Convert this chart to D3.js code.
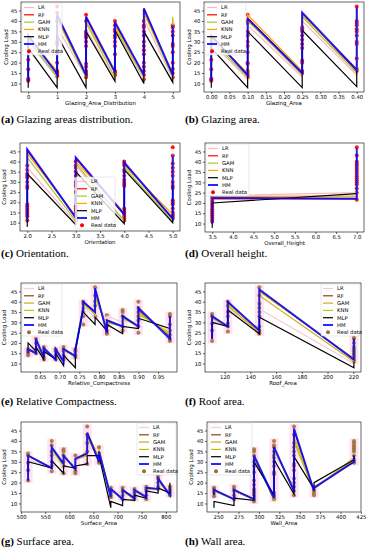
<!DOCTYPE html>
<html><head><meta charset="utf-8">
<script src="https://cdn.jsdelivr.net/npm/d3@7/dist/d3.min.js"></script>
<style>body{margin:0;background:#fff}svg{display:block}</style>
</head><body>
<script>
// ---------- shared ----------
const MODELS = ["LR","RF","GAM","KNN","MLP","HM"];
const COLORS_TOP = ["#ffb6c1","#ff0000","#9acd32","#ffa500","#000000","#0000ff"];
const COLORS_BOT = ["#f2cdd3","#8b4513","#daa520","#c4c400","#000000","#0000ff"];
const Y_TICKS = [10,15,20,25,30,35,40,45];
const Y_DOMAIN = [5.9, 49.1];

// ---------- (a) Glazing_Area_Distribution ----------
const aX = [0,1,2,3,4,5];
const aTicks = [0,1,2,3,4,5];
const aLR  = [[11,30],[13,37],[13,36],[12,36],[12,41],[12,40]];
const aRF  = [[11,33],[15,42.5],[14,42],[15,39],[14,46],[14,38]];
const aGAM = [[11,31],[13,41],[13,39],[13,37],[13,44],[13,42]];
const aKNN = [[11,32],[16,41],[15,40],[15,38],[14,44],[15,41]];
const aMLP = [[8,27],[8,33],[8,35],[11,35.5],[10,35],[10.5,34]];
const aHM  = [[11,33],[14.5,43],[14,42],[15.5,39.5],[14,46],[14,38]];
const aReal = [[11.3,11.8,12.3,16.8,21.4],
  [13.5,14,14.5,15,15.5,16,20,25,29,30,40,44,47],
  [13,14,14.5,15.5,16,18,19.5,28,30,32,33,34,35,40,43],
  [14,15,15.5,16,24,28,30,32,33,35,36,38,40],
  [12,14,16,18,20,24,26,28,30,33,35,37,38,40],
  [13,15,17,20,25,28,29,33,35,37,38]];

// ---------- (b) Glazing_Area ----------
const bX = [0,0.1,0.25,0.4];
const bTicks = [0,0.05,0.1,0.15,0.2,0.25,0.3,0.35,0.4];
const bLR  = [[11,30],[12,38],[13,40],[14,42]];
const bRF  = [[11,33],[14,41.5],[15,43.5],[16,46]];
const bGAM = [[11,31],[13,40],[14,42],[15,45]];
const bKNN = [[11,32],[15,43],[16,43],[17,45]];
const bMLP = [[8,27],[8,35],[8,35.5],[8.5,16]];
const bHM  = [[11,33],[14,41],[15,44],[16.5,46.5]];
const bReal = [[11.3,11.8,12.3,16.8,21.4],
  [13,14,15,16,19.5,20,25,28,30,33,35,39,40,43],
  [15,16,20,21,27,29,31,33,35,36,37],
  [16,17,22,29,30,33,35,36,38,39,40,47]];

// ---------- (c) Orientation ----------
const cX = [2,3,4,5];
const cTicks = [2,2.5,3,3.5,4,4.5,5];
const cLR  = [[11,37],[10,38],[10.5,36],[11,38]];
const cRF  = [[11,45.5],[12.5,41.5],[14,39],[12,42.5]];
const cGAM = [[11,42],[11,39],[11,37],[11,40]];
const cKNN = [[11,44],[13,40],[15,38],[14,43.5]];
const cMLP = [[8,34],[9,35],[9.5,36],[10,30]];
const cHM  = [[11,46],[12.5,42],[14,39.5],[12,43]];
const cReal = [[11,13,14,15,16,17,18,19,27,28,30,32,33,34,36,38],
  [11,13,14,15,16,17,18,25,28,29,30,33,35,37,38,40],
  [11,12,13,14,15,16,17,28,29,30,31,33,35,36,38,39,40],
  [12,13,14,15,17,19,20,21,27,28,30,33,35,37,39,43,47]];

// ---------- (d) Overall_Height ----------
const dX = [3.5,7.0];
const dTicks = [3.5,4,4.5,5,5.5,6,6.5,7];
const dLR  = [[10,23.5],[25,36]];
const dRF  = [[10,22],[22,43]];
const dGAM = [[10,23],[23,38]];
const dKNN = [[10,23],[23.5,40]];
const dMLP = [[8,20],[24.5,24.5]];
const dHM  = [[10,22.5],[22,46.5]];
const dReal = [[11,12,13,14,15,16,17,18,19,20,21,22,23],
  [21.5,25,27,29,30,31,32,33,34,35,36,37,38,39,40,43,47]];

// ---------- (e) Relative_Compactness ----------
const eX = [0.62,0.64,0.66,0.69,0.71,0.74,0.76,0.79,0.82,0.86,0.90,0.98];
const eTicks = [0.65,0.7,0.75,0.8,0.85,0.9,0.95];
const eLR  = [[16,18],[16,20],[14,17],[13,16],[13,16],[14,16],[36,38],[32,41],[30,33],[30,31],[30,34],[26,29]];
const eRF  = [[15,17],[15,21],[13,17],[12,17],[11,17],[14,16],[37,39.5],[35,46],[26,31],[28,33],[28,36],[23,33]];
const eGAM = [[15,17],[15,21],[12,17],[12,16.5],[11.5,17],[14,17],[38,39],[34,44],[27,30],[28,32],[28,35],[24,32]];
const eKNN = [[15,17],[15,21],[12,16.5],[12,16],[12,16.5],[14,16],[38,39],[34,43],[27,30],[28,32],[28,34],[25,30]];
const eMLP = [[17,20],[16,18],[12,16],[12,15],[9,14],[8,17],[36,35],[29,32.5],[26,29],[24.5,28],[27,32],[27,27]];
const eHM  = [[15,17],[15,22],[13,17.5],[12,17],[11,17],[13.5,16.5],[37,40],[35,46.5],[25,31],[28,33],[28,37],[22,33]];
const eReal = [[14,15,16,17],[15,17,20,22],[12,13,15,17,18],[12,14,16,17],[12,14,16,17,18],[13,14,16,17],
  [29,33,35,37,39,40],[33,38,40,43,47],[24.5,25,26,28,29,33.5],[26,28,33,35,36],[25,28,31,33,35,37,40],[21,22,24,26,29,33,34]];

// ---------- (f) Roof_Area ----------
const fX = [110.25,122.5,147,220.5];
const fTicks = [120,140,160,180,200,220];
const fLR  = [[23,31],[28,37],[26,36.5],[10,18]];
const fRF  = [[22,32.5],[28,39.5],[26,45.5],[12,22]];
const fGAM = [[23,32],[28,38],[25,43],[11,20]];
const fKNN = [[23,33],[28,39],[26,45],[12.5,21]];
const fMLP = [[22,30],[28,36],[24.5,32.5],[8,11]];
const fHM  = [[22,33],[28,40],[26,46],[12,22]];
const fReal = [[21,26,29.5,33,34],[25.5,28,29.5,33,35,38,40],[24.5,25,26,28,33,35,37,39,43,47],
  [11,12,13,14,15,16,17,18,20,22,22.5]];

// ---------- (g) Surface_Area ----------
const gX = [514.5,563.5,588,612.5,637,661.5,686,710.5,735,759.5,784,808.5];
const gTicks = [500,550,600,650,700,750,800];
const gLR  = [[26,31],[27,33],[28,32],[28,31],[33,38],[33,35],[15,17],[14,16],[14,16],[15,17],[17,20],[15,17]];
const gRF  = [[21,33],[27,36.5],[29,33],[26.5,31],[34,43.5],[30,35],[13,17],[12,16.5],[12.5,16.5],[13,17.5],[17,21.5],[14,17]];
const gGAM = [[22,33],[27,36],[28,33],[27,31],[33,42],[31,36],[13,17],[12,16],[12,16],[13,17],[17,21],[14,17]];
const gKNN = [[22,33],[27,36],[28,33],[27,31],[35,44],[32,36],[13,17],[12,16],[12,16.5],[13,17],[17,21],[14,17]];
const gMLP = [[25,30],[27,30.5],[24.5,28],[27,28],[29,33],[33,33],[8,11],[9,12],[11.5,14],[12.5,16],[15,17.5],[15,20]];
const gHM  = [[21,33],[27,37],[29,33],[26.5,31.5],[34,44],[30,35],[13,17],[12,16.5],[12.5,16.5],[13,17.5],[17,22],[14,17]];
const gReal = [[21,26,29.5,33,34],[25.5,28,30,33,35,38,40],[24.5,28,30,33,35,36],[24.5,25.5,27,33],
  [29,35,39,43,47],[29.5,30,33,34,37],[13,14,15,16,17.5],[12,14,16,17.5],[12,13,14,15,16,17],
  [12,14,16,17,18],[17,18,20,22,23],[14,15,16,17,18]];

// ---------- (h) Wall_Area ----------
const hX = [245,269.5,294,318.5,343,367.5,416.5];
const hTicks = [250,275,300,325,350,375,400,425];
const hLR  = [[14,16],[13,16],[13,30],[14,34],[18,38],[17,18],[30,32]];
const hRF  = [[14,16.5],[12,16.5],[12,32.5],[13,36.5],[16,45],[16,17.5],[30,33]];
const hGAM = [[14,16],[12,16],[12,32],[12,36],[17,40],[16,17],[31,33]];
const hKNN = [[14,16],[12,16],[12,33],[11.5,36],[17,42],[16,17],[32,34]];
const hMLP = [[8,11],[9,12.5],[11.5,30],[14,31],[14.5,32.5],[17,20],[31,33]];
const hHM  = [[14,16.5],[12,16.5],[12,33],[12.5,37],[16,46],[16,17.5],[30,33]];
const hReal = [[13.5,15,16,17,17.5],[12,13,14,16,17,18],[11,12,13,14,15,16,17,19,21,25,28,30,33,35,36],
  [12,13,14,15,24,25,28,30,32,33,35,37,38,40],[14,16,18,20,22,26,28,29,33,35,37,39,43,47],
  [14,15,16,17,18],[29.5,30,31,33,35,36,37,38,39,40]];

// ---------- drawing ----------
const svg = d3.select("body").append("svg").attr("width",369).attr("height",550);
const FONT = "DejaVu Sans";

function panel(p){
  const x = d3.scaleLinear().domain(p.xd).range([p.l,p.r]);
  const y = d3.scaleLinear().domain(Y_DOMAIN).range([p.b,p.t]);
  const g = svg.append("g");
  const cid = "clip_"+p.id;
  svg.append("clipPath").attr("id",cid).append("rect")
    .attr("x",p.l).attr("y",p.t).attr("width",p.r-p.l).attr("height",p.b-p.t);
  const plot = g.append("g").attr("clip-path",`url(#${cid})`);
  const colors = p.bottomStyle ? COLORS_BOT : COLORS_TOP;
  const dotColor = p.bottomStyle ? "#9a6c34" : "#ff0000";

  if (p.bottomStyle){
    plot.selectAll("rect.band").data(p.real).join("rect")
      .attr("x",(d,i)=>x(p.xs[i])-4.5).attr("width",9)
      .attr("y",d=>y(d3.max(d)+1.2)).attr("height",d=>y(d3.min(d)-1.2)-y(d3.max(d)+1.2))
      .attr("fill","#ff9ad5").attr("opacity",0.3);
  }
  const pts = p.real.flatMap((arr,i)=>arr.map(v=>[p.xs[i],v]));
  plot.selectAll("circle.real").data(pts).join("circle")
    .attr("cx",d=>x(d[0])).attr("cy",d=>y(d[1])).attr("r",2)
    .attr("fill",dotColor).attr("opacity",p.bottomStyle?0.85:0.9);

  const line = d3.line().x(d=>x(d[0])).y(d=>y(d[1]));
  p.series.forEach((s,k)=>{
    const data = p.xs.flatMap((xv,i)=>[[xv,s[i][0]],[xv,s[i][1]]]);
    plot.append("path").attr("d",line(data)).attr("fill","none")
      .attr("stroke",colors[k]).attr("stroke-width",k===5?2:1.2)
      .attr("stroke-opacity",k===5?0.85:1).attr("stroke-linejoin","miter");
  });

  // axes
  const ax = g.append("g").attr("transform",`translate(0,${p.b})`)
    .call(d3.axisBottom(x).tickValues(p.xt).tickFormat(p.fmt).tickSize(2).tickPadding(1.5));
  const ay = g.append("g").attr("transform",`translate(${p.l},0)`)
    .call(d3.axisLeft(y).tickValues(Y_TICKS).tickFormat(d3.format("d")).tickSize(2).tickPadding(1.5));
  [ax,ay].forEach(a=>{
    a.select(".domain").remove();
    a.selectAll("line").attr("stroke","#000").attr("stroke-width",0.6);
    a.selectAll("text").attr("font-family",FONT).attr("font-size",5.3).attr("fill","#000");
  });
  g.append("rect").attr("x",p.l).attr("y",p.t).attr("width",p.r-p.l).attr("height",p.b-p.t)
    .attr("fill","none").attr("stroke","#000").attr("stroke-width",0.6);

  g.append("text").attr("x",(p.l+p.r)/2).attr("y",p.b+13)
    .attr("text-anchor","middle").attr("font-family",FONT).attr("font-size",5.5).text(p.xlabel);
  g.append("text").attr("transform",`translate(${p.ylx},${(p.t+p.b)/2}) rotate(-90)`)
    .attr("text-anchor","middle").attr("font-family",FONT).attr("font-size",5.5).text("Cooling Load");

  // legend
  const L = g.append("g").attr("transform",`translate(${p.lg[0]},${p.lg[1]})`);
  L.append("rect").attr("width",p.lg[2]).attr("height",52).attr("rx",1.5)
    .attr("fill","#fff").attr("fill-opacity",0.8).attr("stroke","#d0d0d0").attr("stroke-width",0.5);
  MODELS.forEach((m,k)=>{
    const yy = 4.5 + k*7.3;
    L.append("line").attr("x1",2).attr("x2",12).attr("y1",yy).attr("y2",yy)
      .attr("stroke",colors[k]).attr("stroke-width",k===5?2:1.2).attr("stroke-opacity",k===5?0.85:1);
    L.append("text").attr("x",16).attr("y",yy+1.9).attr("font-family",FONT).attr("font-size",5.3).text(m);
  });
  const yr = 4.5 + 6*7.3;
  L.append("circle").attr("cx",7).attr("cy",yr).attr("r",2).attr("fill",dotColor);
  L.append("text").attr("x",16).attr("y",yr+1.9).attr("font-family",FONT).attr("font-size",5.3).text("Real data");

  // caption
  const c = g.append("text").attr("x",p.cap[0]).attr("y",p.cap[1])
    .attr("font-family","Liberation Serif, serif").attr("font-size",11);
  c.append("tspan").attr("font-weight","bold").text(p.capLetter);
  c.append("tspan").text(" "+p.capText);
}

const f2 = d3.format(".2f"), f1 = d3.format(".1f"), fd = d3.format("d");

panel({id:"a",xs:aX,series:[aLR,aRF,aGAM,aKNN,aMLP,aHM],real:aReal,xd:[-0.25,5.25],xt:aTicks,fmt:fd,
  l:21,r:180,t:2,b:92,xlabel:"Glazing_Area_Distribution",ylx:8,lg:[22,3,40],
  cap:[1,123],capLetter:"(a)",capText:"Glazing areas distribution."});
panel({id:"b",xs:bX,series:[bLR,bRF,bGAM,bKNN,bMLP,bHM],real:bReal,xd:[-0.02,0.42],xt:bTicks,fmt:f2,
  l:204,r:364,t:2,b:92,xlabel:"Glazing_Area",ylx:191,lg:[205,3,41],
  cap:[185,123],capLetter:"(b)",capText:"Glazing area."});
panel({id:"c",xs:cX,series:[cLR,cRF,cGAM,cKNN,cMLP,cHM],real:cReal,xd:[1.85,5.15],xt:cTicks,fmt:f1,
  l:20,r:180,t:143,b:231,xlabel:"Orientation",ylx:6,lg:[75,177,40],
  cap:[1,257],capLetter:"(c)",capText:"Orientation."});
panel({id:"d",xs:dX,series:[dLR,dRF,dGAM,dKNN,dMLP,dHM],real:dReal,xd:[3.325,7.175],xt:dTicks,fmt:f1,
  l:205,r:364,t:143,b:232,xlabel:"Overall_Height",ylx:191,lg:[206,144,43],
  cap:[185,257],capLetter:"(d)",capText:"Overall height."});
panel({id:"e",xs:eX,series:[eLR,eRF,eGAM,eKNN,eMLP,eHM],real:eReal,xd:[0.602,0.998],xt:eTicks,fmt:f2,
  l:21,r:177,t:283,b:372,xlabel:"Relative_Compactness",ylx:6,lg:[22,284,40],bottomStyle:true,
  cap:[1,405],capLetter:"(e)",capText:"Relative Compactness."});
panel({id:"f",xs:fX,series:[fLR,fRF,fGAM,fKNN,fMLP,fHM],real:fReal,xd:[104.74,226.01],xt:fTicks,fmt:fd,
  l:205,r:361,t:283,b:372,xlabel:"Roof_Area",ylx:191,lg:[321,284,39],bottomStyle:true,
  cap:[185,405],capLetter:"(f)",capText:"Roof area."});
panel({id:"g",xs:gX,series:[gLR,gRF,gGAM,gKNN,gMLP,gHM],real:gReal,xd:[499.8,823.2],xt:gTicks,fmt:fd,
  l:21,r:177,t:422,b:512,xlabel:"Surface_Area",ylx:6,lg:[137,423,39],bottomStyle:true,
  cap:[1,545],capLetter:"(g)",capText:"Surface area."});
panel({id:"h",xs:hX,series:[hLR,hRF,hGAM,hKNN,hMLP,hHM],real:hReal,xd:[236.4,425.1],xt:hTicks,fmt:fd,
  l:207,r:361,t:422,b:512,xlabel:"Wall_Area",ylx:193,lg:[209,423,43],bottomStyle:true,
  cap:[185,545],capLetter:"(h)",capText:"Wall area."});
</script>
</body></html>
